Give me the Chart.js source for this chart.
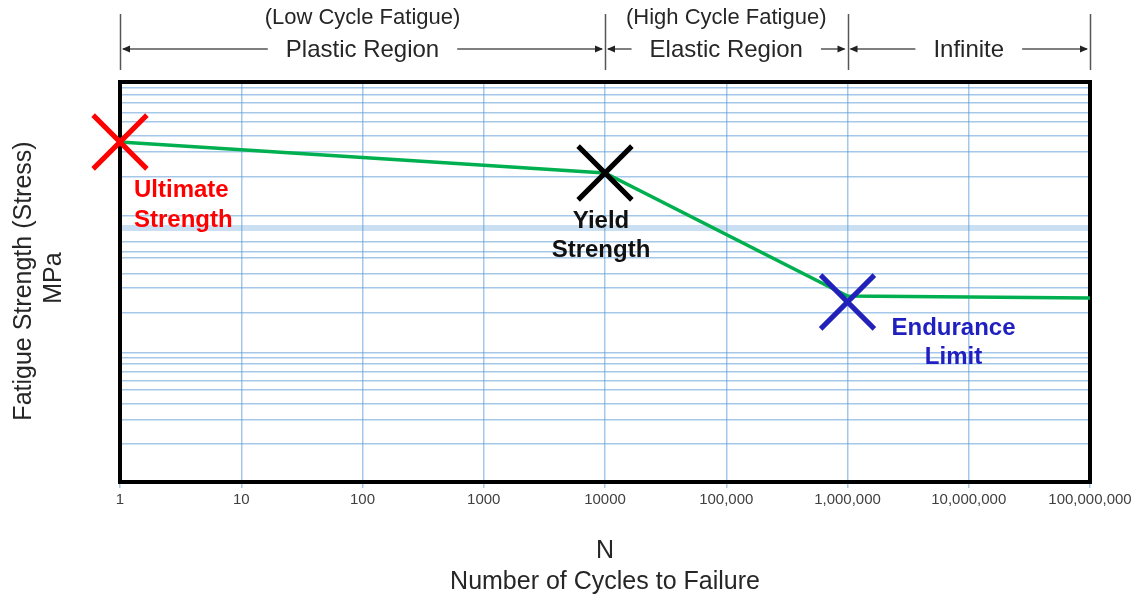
<!DOCTYPE html>
<html><head><meta charset="utf-8">
<script src="https://cdn.jsdelivr.net/npm/chart.js@4/dist/chart.umd.min.js"></script>
<style>html,body{margin:0;padding:0;background:#fff}#wrap{width:1140px;height:603px;position:relative}</style>
</head><body><div id="wrap"><canvas id="c" width="1140" height="603"></canvas></div>
<script>
// ---- data ----
const cycles = [1, 10000, 1000000, 100000000];
const stress = [340, 309, 186, 184];
const markerCycles = [1, 10000, 1000000];
const markerStress = [340, 309, 180];
const markerNames = [["Ultimate", "Strength"], ["Yield", "Strength"], ["Endurance", "Limit"]];
const markerColors = ["#ff0000", "#000000", "#2222bb"];
const xTickValues = [1, 10, 100, 1000, 10000, 100000, 1000000, 10000000, 100000000];
const xTickLabels = ["1", "10", "100", "1000", "10000", "100,000", "1,000,000", "10,000,000", "100,000,000"];
const yGridValues = [394, 387, 379, 369, 360, 346, 330, 305, 266, 254, 240, 230, 224, 208, 194, 169, 129, 124, 118, 110, 101, 92, 78, 62, 38];
const yBandValue = 254;
const regionBounds = [1, 10000, 1000000, 100000000];
const regionNames = ["Plastic Region", "Elastic Region", "Infinite"];
const regionSubs = ["(Low Cycle Fatigue)", "(High Cycle Fatigue)", ""];
const xTitleLines = ["N", "Number of Cycles to Failure"];
const yTitleLines = ["Fatigue Strength (Stress)", "MPa"];

const FONT = "'Liberation Sans', Arial, sans-serif";
const GRID = "rgba(91,155,213,0.55)";
const BAND = "rgba(91,155,213,0.32)";

// label placement (pixel offsets from marker point)
const labelStyle = [
  { align: "left", dx: 14, dy: [55, 85], color: "#ff0000" },
  { align: "center", dx: -4, dy: [55, 84], color: "#111111" },
  { align: "center", dx: 106, dy: [33, 62], color: "#2020c0" }
];

function arrowHead(ctx, x, y, dir) {
  ctx.beginPath();
  ctx.moveTo(x, y);
  ctx.lineTo(x - dir * 8, y - 3.5);
  ctx.lineTo(x - dir * 8, y + 3.5);
  ctx.closePath();
  ctx.fill();
}

const annotate = {
  id: "annotate",
  beforeDatasetsDraw(chart) {
    const { ctx, chartArea: a } = chart;
    ctx.save();
    ctx.strokeStyle = "#000";
    ctx.lineWidth = 4;
    ctx.strokeRect(a.left, a.top, a.right - a.left, a.bottom - a.top);
    ctx.restore();
  },
  afterDraw(chart) {
    const { ctx, chartArea: a } = chart;
    const xs = chart.scales.x, ys = chart.scales.y;
    ctx.save();
    // region boundaries
    ctx.strokeStyle = "#555";
    ctx.lineWidth = 1.5;
    regionBounds.forEach(b => {
      const px = Math.round(xs.getPixelForValue(b)) + 0.5;
      ctx.beginPath(); ctx.moveTo(px, 14); ctx.lineTo(px, 70); ctx.stroke();
    });
    // region texts and arrows
    ctx.textAlign = "center";
    ctx.textBaseline = "middle";
    for (let i = 0; i < regionNames.length; i++) {
      const x0 = xs.getPixelForValue(regionBounds[i]);
      const x1 = xs.getPixelForValue(regionBounds[i + 1]);
      const cx = (x0 + x1) / 2;
      const y = 49;
      ctx.fillStyle = "#262626";
      ctx.font = "24px " + FONT;
      const w = ctx.measureText(regionNames[i]).width;
      ctx.fillText(regionNames[i], cx, y + 1);
      if (regionSubs[i]) {
        ctx.font = "22px " + FONT;
        ctx.fillText(regionSubs[i], cx, 18);
      }
      const gap = 18;
      ctx.strokeStyle = "#7f7f7f";
      ctx.lineWidth = 2;
      ctx.beginPath();
      ctx.moveTo(x0 + 3, y); ctx.lineTo(cx - w / 2 - gap, y);
      ctx.moveTo(cx + w / 2 + gap, y); ctx.lineTo(x1 - 3, y);
      ctx.stroke();
      ctx.fillStyle = "#222";
      arrowHead(ctx, x0 + 2, y, -1);
      arrowHead(ctx, x1 - 2, y, 1);
    }
    // marker labels
    ctx.font = "bold 24px " + FONT;
    ctx.textBaseline = "alphabetic";
    markerNames.forEach((lines, i) => {
      const s = labelStyle[i];
      const px = xs.getPixelForValue(markerCycles[i]);
      const py = ys.getPixelForValue(markerStress[i]);
      ctx.fillStyle = s.color;
      ctx.textAlign = s.align;
      lines.forEach((t, j) => ctx.fillText(t, px + s.dx, py + s.dy[j]));
    });
    // axis titles
    ctx.fillStyle = "#262626";
    ctx.font = "25px " + FONT;
    ctx.textAlign = "center";
    ctx.textBaseline = "middle";
    const mx = (a.left + a.right) / 2;
    ctx.fillText(xTitleLines[0], mx, 551);
    ctx.fillText(xTitleLines[1], mx, 582);
    ctx.save();
    ctx.translate(24, 281);
    ctx.rotate(-Math.PI / 2);
    ctx.fillText(yTitleLines[0], 0, 0);
    ctx.restore();
    ctx.save();
    ctx.translate(54, 278);
    ctx.rotate(-Math.PI / 2);
    ctx.fillText(yTitleLines[1], 0, 0);
    ctx.restore();
    ctx.restore();
  }
};

new Chart(document.getElementById("c"), {
  type: "line",
  data: {
    datasets: [
      {
        label: "markers",
        data: markerCycles.map((x, i) => ({ x, y: markerStress[i] })),
        showLine: false,
        pointStyle: "crossRot",
        pointRadius: 38,
        pointHoverRadius: 38,
        pointBorderWidth: 5,
        pointBorderColor: markerColors,
        pointBackgroundColor: markerColors,
        clip: false,
        order: 0
      },
      {
        label: "S-N curve",
        data: cycles.map((x, i) => ({ x, y: stress[i] })),
        borderColor: "#00b050",
        borderWidth: 3.5,
        pointRadius: 0,
        tension: 0,
        fill: false,
        clip: false,
        order: 1
      }
    ]
  },
  options: {
    responsive: false,
    animation: false,
    devicePixelRatio: 1,
    layout: { padding: { top: 82, right: 50, bottom: 0, left: 0 } },
    plugins: { legend: { display: false }, tooltip: { enabled: false } },
    events: [],
    scales: {
      x: {
        type: "logarithmic",
        min: 1,
        max: 100000000,
        afterBuildTicks: s => { s.ticks = xTickValues.map(v => ({ value: v })); },
        afterFit: s => { s.height = 121; },
        ticks: {
          autoSkip: false,
          maxRotation: 0,
          callback: (v, i) => xTickLabels[i],
          font: { family: FONT, size: 15 },
          color: "#404040",
          padding: 3
        },
        grid: { color: GRID, lineWidth: 1.5, drawTicks: true, tickLength: 6 },
        border: { display: false }
      },
      y: {
        type: "linear",
        min: 0,
        max: 400,
        afterBuildTicks: s => { s.ticks = yGridValues.map(v => ({ value: v })); },
        afterFit: s => { s.width = 120; },
        ticks: { display: false },
        grid: {
          drawTicks: false,
          color: c => (c.tick && c.tick.value === yBandValue ? BAND : GRID),
          lineWidth: c => (c.tick && c.tick.value === yBandValue ? 6 : 1.5)
        },
        border: { display: false }
      }
    }
  },
  plugins: [annotate]
});
</script>
</body></html>
